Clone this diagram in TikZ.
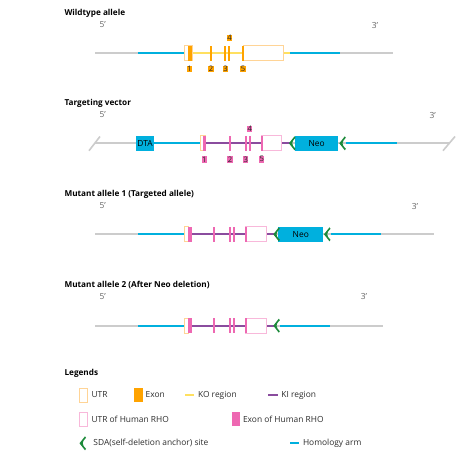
\documentclass[tikz,border=0pt]{standalone}
\usepackage{fontspec}
\setmainfont{Open Sans}
\usetikzlibrary{positioning}
\definecolor{lgray}{RGB}{204,204,204}
\definecolor{armblue}{RGB}{0,176,222}
\definecolor{koyel}{RGB}{255,224,96}
\definecolor{exorange}{RGB}{255,163,0}
\definecolor{utryel}{RGB}{255,212,150}
\definecolor{hpink}{RGB}{238,104,178}
\definecolor{hpinkl}{RGB}{248,184,218}
\definecolor{kipurple}{RGB}{138,76,158}
\definecolor{sdagreen}{RGB}{28,138,58}
\newcommand{\strq}{\char"27}

\begin{document}
\begin{tikzpicture}[x=1pt, y=-1pt,
    every node/.style={font=\fontsize{8.4}{9}\selectfont, text=black!82},
    ttl/.style={anchor=west, font=\bfseries\fontsize{8.2}{9}\selectfont, text=black},
    endlbl/.style={text=black!60},
    chrom/.style={line width=2.2pt, lgray},
    arm/.style={line width=2.2pt, armblue},
    ko/.style={line width=2.2pt, koyel},
    ki/.style={line width=2.2pt, kipurple},
    utrbox/.style={draw=utryel, fill=white, line width=0.8pt, minimum height=15pt, inner sep=0pt},
    hutrbox/.style={utrbox, draw=hpinkl},
    exbox/.style={fill=exorange, minimum height=15pt, inner sep=0pt},
    hexbox/.style={exbox, fill=hpink},
    cassette/.style={fill=armblue, minimum height=15pt, inner sep=0pt, text=black},
    numlbl/.style={fill=exorange, inner sep=0.5pt, font=\fontsize{7.6}{8}\selectfont, text=black!85},
    hnumlbl/.style={numlbl, fill=hpink},
    sda/.pic={\fill[sdagreen] (5.5,-7) .. controls (2,-3.5) .. (0,0) .. controls (2,3.5) .. (5.5,7)
       -- (6.5,5.5) .. controls (3.8,2.5) .. (3.2,0) .. controls (3.8,-2.5) .. (6.5,-5.5) -- cycle;}]
  \useasboundingbox[fill=white] (0,0) rectangle (476,471);

  % Wildtype allele
  \node[ttl] (wt) at (61,13) {Wildtype allele};
  \node[endlbl] (wt5) at (102.7,25) {5\strq};
  \node[endlbl] (wt3) at (375,25) {3\strq};
  \coordinate (wtl) at (95,53);
  \coordinate (wtr) at (393,53);
  \coordinate (wta1) at (138,53);
  \coordinate (wta2) at (290,53);
  \coordinate (wta3) at (340,53);
  \draw[chrom] (wtl) -- (wtr);
  \draw[arm] (wta1) -- (188,53);
  \draw[ko] (190,53) -- (wta2);
  \draw[arm] (wta2) -- (wta3);
  \node[utrbox, minimum width=7.8pt] (wu1) at (188,53) {};
  \node[utrbox, minimum width=40pt] (wu2) at (263,53) {};
  \node[exbox, minimum width=4pt] (we1) at (189.8,53) {};
  \node[exbox, minimum width=1.8pt] (we2) at (210.7,53) {};
  \node[exbox, minimum width=1.8pt] (we3) at (225,53) {};
  \node[exbox, minimum width=1.8pt] (we4) at (229,53) {};
  \node[exbox, minimum width=1.8pt] (we5) at (243,53) {};
  \node[numlbl] at (189.5,69) {1};
  \node[numlbl] at (211,69) {2};
  \node[numlbl] at (225.5,69) {3};
  \node[numlbl] at (229.5,38) {4};
  \node[numlbl] at (243,69) {5};

  % Targeting vector
  \node[ttl] (tv) at (61,103) {Targeting vector};
  \node[endlbl] (tv5) at (102.7,115) {5\strq};
  \node[endlbl] (tv3) at (432.7,115) {3\strq};
  \coordinate (tvl) at (94.5,143.3);
  \coordinate (tvr) at (449,143.3);
  \draw[chrom] (tvl) -- (tvr);
  \draw[lgray, line width=1.6pt] (89,150.7) -- (100,136.5);
  \draw[lgray, line width=1.6pt] (443,150.7) -- (455,136.5);
  \node[cassette, minimum width=18pt] (dta) at (145,143.3) {DTA};
  \draw[arm] (dta.east) -- (203,143.3);
  \draw[ki] (204,143.3) -- (291,143.3);
  \node[utrbox, minimum width=5.5pt] (tu1) at (203,143.3) {};
  \node[hutrbox, minimum width=20pt] (tu2) at (271.7,143.3) {};
  \node[hexbox, minimum width=3pt] (te1) at (204.3,143.3) {};
  \node[hexbox, minimum width=1.8pt] (te2) at (230,143.3) {};
  \node[hexbox, minimum width=1.8pt] (te3) at (245.7,143.3) {};
  \node[hexbox, minimum width=1.8pt] (te4) at (249.7,143.3) {};
  \node[hexbox, minimum width=1.8pt] (te5) at (261.7,143.3) {};
  \node[cassette, minimum width=43pt] (tneo) at (316.7,143.3) {Neo};
  \pic at (289,143.3) {sda};
  \pic at (339.3,143.3) {sda};
  \coordinate (ta2) at (346,143.3);
  \coordinate (ta3) at (396.7,143.3);
  \draw[arm] (ta2) -- (ta3);
  \node[hnumlbl] at (204.3,159.3) {1};
  \node[hnumlbl] at (230,159.3) {2};
  \node[hnumlbl] at (245.7,159.3) {3};
  \node[hnumlbl] at (249.7,129) {4};
  \node[hnumlbl] at (261.7,159.3) {5};

  % Mutant allele 1
  \node[ttl] (m1) at (61,194.3) {Mutant allele 1 (Targeted allele)};
  \node[endlbl] (m15) at (102.7,206) {5\strq};
  \node[endlbl] (m13) at (415,206) {3\strq};
  \coordinate (m1l) at (95,234.3);
  \coordinate (m1r) at (434,234.3);
  \draw[chrom] (m1l) -- (m1r);
  \draw[arm] (138,234.3) -- (186,234.3);
  \draw[ki] (190,234.3) -- (274,234.3);
  \draw[arm] (330.7,234.3) -- (380.7,234.3);
  \node[utrbox, minimum width=4.5pt] (m1u1) at (186.2,234.3) {};
  \node[hutrbox, minimum width=20.3pt] (m1u2) at (255.9,234.3) {};
  \node[hexbox, minimum width=4pt] (m1e1) at (189.7,234.3) {};
  \node[hexbox, minimum width=1.8pt] at (214,234.3) {};
  \node[hexbox, minimum width=1.8pt] at (230,234.3) {};
  \node[hexbox, minimum width=1.8pt] at (234,234.3) {};
  \node[hexbox, minimum width=1.8pt] at (245.7,234.3) {};
  \node[cassette, minimum width=45pt] (m1neo) at (300.8,234.3) {Neo};
  \pic at (273.3,234.3) {sda};
  \pic at (324,234.3) {sda};

  % Mutant allele 2
  \node[ttl] (m2) at (61,285) {Mutant allele 2 (After Neo deletion)};
  \node[endlbl] (m25) at (102.7,296.7) {5\strq};
  \node[endlbl] (m23) at (364,296.7) {3\strq};
  \coordinate (m2l) at (95,325.7);
  \coordinate (m2r) at (382.7,325.7);
  \draw[chrom] (m2l) -- (m2r);
  \draw[arm] (138,325.7) -- (186,325.7);
  \draw[ki] (190,325.7) -- (274,325.7);
  \draw[arm] (280,325.7) -- (330,325.7);
  \node[utrbox, minimum width=4.5pt] (m2u1) at (186.2,325.7) {};
  \node[hutrbox, minimum width=20.3pt] (m2u2) at (255.9,325.7) {};
  \node[hexbox, minimum width=4pt] (m2e1) at (189.7,325.7) {};
  \node[hexbox, minimum width=1.8pt] at (214,325.7) {};
  \node[hexbox, minimum width=1.8pt] at (230,325.7) {};
  \node[hexbox, minimum width=1.8pt] at (234,325.7) {};
  \node[hexbox, minimum width=1.8pt] at (245.7,325.7) {};
  \pic at (273.3,325.7) {sda};

  % Legends
  \node[ttl] (lg) at (61,373.3) {Legends};
  \node[utrbox, minimum width=8.4pt, minimum height=14pt] (lutr) at (83.5,395) {};
  \node[anchor=west] at (88,395) {UTR};
  \node[exbox, minimum width=8.4pt, minimum height=14pt] (lex) at (138.5,395) {};
  \node[anchor=west] at (142.2,395) {Exon};
  \draw[ko, line width=2pt] (185,395) -- (194.3,395);
  \node[anchor=west] at (194.5,395) {KO region};
  \draw[ki, line width=2pt] (268.3,395) -- (278.3,395);
  \node[anchor=west] at (277.9,395) {KI region};
  \node[hutrbox, minimum width=8.4pt, minimum height=14pt] (lhutr) at (83.5,419.3) {};
  \node[anchor=west] at (88,419.3) {UTR of Human RHO};
  \node[hexbox, minimum width=8.4pt, minimum height=14pt] (lhex) at (235.8,419.3) {};
  \node[anchor=west] at (239.5,419.3) {Exon of Human RHO};
  \pic at (79.5,443.3) {sda};
  \node[anchor=west] at (89.9,443.3) {SDA(self-deletion anchor) site};
  \draw[arm, line width=2pt] (290,443.3) -- (299.3,443.3);
  \node[anchor=west] at (299.5,443.3) {Homology arm};
\end{tikzpicture}
\end{document}
